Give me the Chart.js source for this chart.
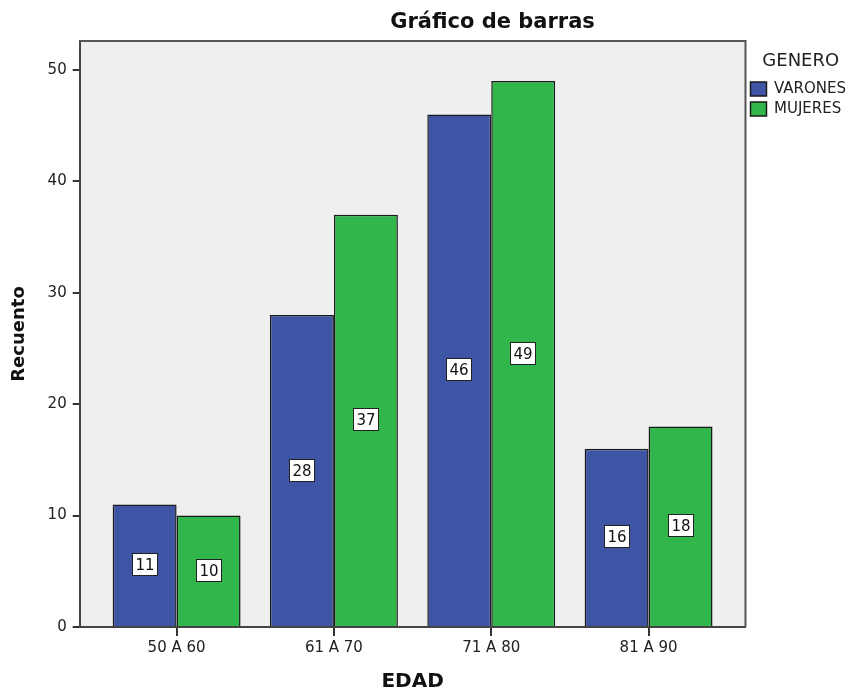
<!DOCTYPE html>
<html>
<head>
<meta charset="utf-8">
<script src="https://cdn.jsdelivr.net/npm/chart.js@4.4.1/dist/chart.umd.min.js"></script>
<style>
  html, body { margin: 0; padding: 0; background: #fff; }
  #wrap { width: 854px; height: 690px; }
</style>
</head>
<body>
<div id="wrap"><canvas id="chart" width="854" height="690"></canvas></div>
<script>
const categories = ['50 A 60', '61 A 70', '71 A 80', '81 A 90'];
const varones = [11, 28, 46, 16];
const mujeres = [10, 37, 49, 18];
const yTicks = [0, 10, 20, 30, 40, 50];

const FONT = 'DejaVu Sans';

// plot background + top/right frame like SPSS
const plotFrame = {
    id: 'plotFrame',
    beforeDraw(chart) {
        const { ctx, chartArea: a } = chart;
        ctx.save();
        ctx.fillStyle = '#efefef';
        ctx.fillRect(a.left, a.top, a.width, a.height);
        ctx.restore();
    },
    beforeDatasetsDraw(chart) {
        const { ctx, chartArea: a } = chart;
        ctx.save();
        ctx.strokeStyle = '#555';
        ctx.lineWidth = 2;
        ctx.beginPath();
        ctx.moveTo(a.left, a.top);
        ctx.lineTo(a.right, a.top);
        ctx.lineTo(a.right, a.bottom);
        ctx.stroke();
        ctx.restore();
    }
};

const chartTitle = {
    id: 'chartTitle',
    afterDraw(chart) {
        const { ctx, chartArea: a } = chart;
        ctx.save();
        ctx.font = 'bold 21px "' + FONT + '"';
        ctx.fillStyle = '#111';
        ctx.textAlign = 'center';
        ctx.textBaseline = 'alphabetic';
        ctx.fillText('Gráfico de barras', a.left + a.width * 0.62, 28);
        ctx.restore();
    }
};

// white boxed value in the middle of each bar
const barValues = {
    id: 'barValues',
    afterDatasetsDraw(chart) {
        const ctx = chart.ctx;
        ctx.save();
        ctx.font = '15px "' + FONT + '"';
        ctx.textAlign = 'center';
        ctx.textBaseline = 'middle';
        chart.data.datasets.forEach((ds, i) => {
            chart.getDatasetMeta(i).data.forEach((bar, j) => {
                const v = ds.data[j].y;
                const cx = Math.round(bar.x);
                const cy = Math.round((bar.y + bar.base) / 2);
                ctx.fillStyle = '#fff';
                ctx.fillRect(cx - 13, cy - 12, 26, 23);
                ctx.strokeStyle = '#222';
                ctx.lineWidth = 1;
                ctx.strokeRect(cx - 13 + 0.5, cy - 12 + 0.5, 25, 22);
                ctx.fillStyle = '#111';
                ctx.fillText(String(v), cx, cy + 1);
            });
        });
        ctx.restore();
    }
};

const ctx = document.getElementById('chart').getContext('2d');
const chart = new Chart(ctx, {
    type: 'bar',
    data: {
        datasets: [{
            label: 'VARONES',
            data: varones.map((v, i) => ({ x: i, y: v })),
            backgroundColor: '#3e55a6',
            borderColor: '#1a1a1a',
            borderWidth: 1.5,
            categoryPercentage: 0.813,
            barPercentage: 1
        }, {
            label: 'MUJERES',
            data: mujeres.map((v, i) => ({ x: i, y: v })),
            backgroundColor: '#30b64a',
            borderColor: '#1a1a1a',
            borderWidth: 1.5,
            categoryPercentage: 0.813,
            barPercentage: 1
        }]
    },
    options: {
        responsive: false,
        animation: false,
        devicePixelRatio: 1,
        layout: {
            padding: { top: 41, left: 0, right: -2, bottom: 0 }
        },
        plugins: {
            title: { display: false },
            tooltip: { enabled: false },
            legend: {
                position: 'right',
                align: 'start',
                title: {
                    display: true,
                    text: 'GENERO',
                    color: '#222',
                    font: { family: FONT, size: 18 },
                    padding: { top: 11, bottom: 3 }
                },
                labels: {
                    boxWidth: 16,
                    boxHeight: 14,
                    padding: 5,
                    color: '#222',
                    font: { family: FONT, size: 15 }
                }
            }
        },
        scales: {
            x: {
                type: 'linear',
                min: -0.616,
                max: 3.616,
                offset: false,
                afterBuildTicks: scale => {
                    scale.ticks = categories.map((c, i) => ({ value: i }));
                },
                ticks: {
                    autoSkip: false,
                    maxRotation: 0,
                    padding: 3,
                    color: '#222',
                    font: { family: FONT, size: 15 },
                    callback: value => categories[value]
                },
                grid: {
                    offset: false,
                    drawOnChartArea: false,
                    drawTicks: true,
                    tickLength: 9,
                    color: '#333',
                    lineWidth: 2
                },
                border: { display: true, color: '#444', width: 2 },
                title: {
                    display: true,
                    text: 'EDAD',
                    color: '#111',
                    font: { family: FONT, size: 20, weight: 'bold', lineHeight: 0.8 },
                    padding: { top: 14, bottom: 0 }
                }
            },
            y: {
                min: 0,
                max: 52.6,
                afterBuildTicks: scale => {
                    scale.ticks = yTicks.map(v => ({ value: v }));
                },
                ticks: {
                    padding: 6,
                    color: '#222',
                    font: { family: FONT, size: 15 }
                },
                grid: {
                    drawOnChartArea: false,
                    drawTicks: true,
                    tickLength: 7,
                    color: '#333',
                    lineWidth: 2
                },
                border: { display: true, color: '#444', width: 2 },
                title: {
                    display: true,
                    text: 'Recuento',
                    color: '#111',
                    font: { family: FONT, size: 18, weight: 'bold' },
                    padding: { top: 9, bottom: 11 }
                }
            }
        }
    },
    plugins: [plotFrame, chartTitle, barValues]
});
</script>
</body>
</html>
